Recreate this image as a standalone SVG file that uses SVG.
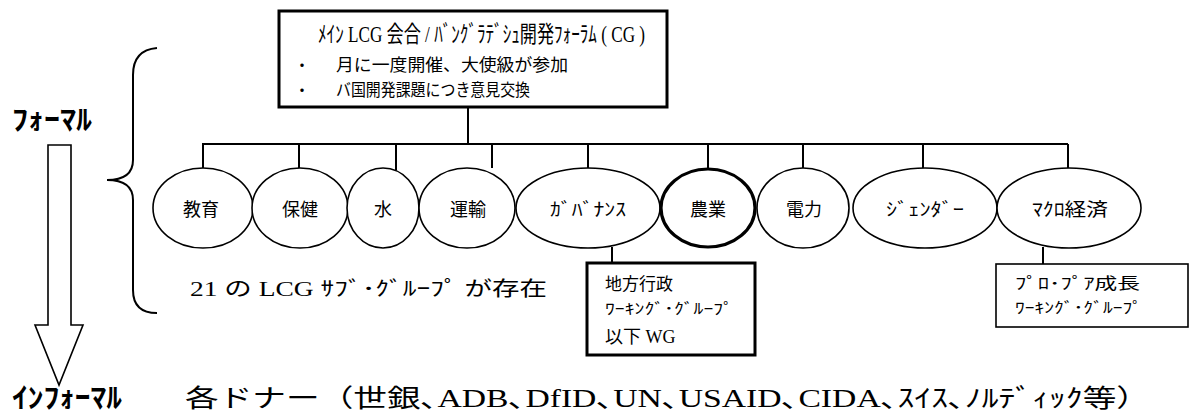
<svg xmlns="http://www.w3.org/2000/svg" width="1195" height="414" viewBox="0 0 1195 414">
<style>
.ln{stroke:#000;stroke-width:2;fill:none}
.el{stroke:#000;stroke-width:1.6;fill:#fff}
.jp{font-family:"Noto Sans CJK JP",sans-serif;fill:#000}
.mx{font-family:"Liberation Serif","Noto Sans CJK JP",serif;fill:#000}
.lab{font-family:"Noto Sans CJK JP",sans-serif;font-size:18px;text-anchor:middle;dominant-baseline:central;fill:#000}
</style>
<rect width="1195" height="414" fill="#fff"/>
<g id="connectors">
<line class="ln" x1="468" y1="108" x2="468" y2="144"/>
<line class="ln" x1="202" y1="144" x2="1068" y2="144"/>
<line class="ln" x1="203" y1="144" x2="203" y2="168"/>
<line class="ln" x1="299" y1="144" x2="299" y2="168"/>
<line class="ln" x1="396" y1="144" x2="396" y2="170"/>
<line class="ln" x1="492" y1="144" x2="492" y2="168"/>
<line class="ln" x1="588" y1="144" x2="588" y2="168"/>
<line class="ln" x1="708" y1="144" x2="708" y2="168"/>
<line class="ln" x1="803" y1="144" x2="803" y2="168"/>
<line class="ln" x1="923" y1="144" x2="923" y2="168"/>
<line class="ln" x1="1068" y1="144" x2="1068" y2="168"/>
<line class="ln" x1="612" y1="247" x2="612" y2="263"/>
<line class="ln" x1="1043" y1="247" x2="1043" y2="264"/>
</g>
<g id="main">
<rect x="279" y="11" width="388" height="96" fill="#fff" stroke="#000" stroke-width="3"/>
<text class="mx" x="318" y="42" font-size="23" textLength="327" lengthAdjust="spacingAndGlyphs">ﾒｲﾝ LCG 会合 / ﾊﾞﾝｸﾞﾗﾃﾞｼｭ開発ﾌｫｰﾗﾑ ( CG )</text>
<text class="jp" x="294" y="71" font-size="16">・</text>
<text class="jp" x="336" y="71" font-size="17" textLength="232" lengthAdjust="spacingAndGlyphs">月に一度開催、大使級が参加</text>
<text class="jp" x="294" y="96" font-size="16">・</text>
<text class="jp" x="336" y="96" font-size="17" textLength="194" lengthAdjust="spacingAndGlyphs">バ国開発課題につき意見交換</text>
</g>
<g id="n-kyoiku"><ellipse class="el" cx="203" cy="208" rx="50" ry="40"/><text class="lab" x="201" y="208">教育</text></g>
<g id="n-hoken"><ellipse class="el" cx="300" cy="208" rx="48" ry="40"/><text class="lab" x="300" y="208">保健</text></g>
<g id="n-mizu"><ellipse class="el" cx="383" cy="208" rx="36" ry="40"/><text class="lab" x="383" y="208">水</text></g>
<g id="n-unyu"><ellipse class="el" cx="467" cy="208" rx="48" ry="40"/><text class="lab" x="468" y="208">運輸</text></g>
<g id="n-gov"><ellipse class="el" cx="588" cy="208" rx="72" ry="40"/><text class="lab" x="588" y="208" textLength="76" lengthAdjust="spacingAndGlyphs">ｶﾞﾊﾞﾅﾝｽ</text></g>
<g id="n-nogyo"><ellipse cx="708" cy="208" rx="47" ry="39" fill="#fff" stroke="#000" stroke-width="3.2"/><text class="lab" x="708" y="208">農業</text></g>
<g id="n-denryoku"><ellipse class="el" cx="803" cy="208" rx="46" ry="40"/><text class="lab" x="804" y="208">電力</text></g>
<g id="n-gender"><ellipse class="el" cx="925" cy="208" rx="72" ry="40"/><text class="lab" x="925" y="208" textLength="78" lengthAdjust="spacingAndGlyphs">ｼﾞｪﾝﾀﾞｰ</text></g>
<g id="n-macro"><ellipse class="el" cx="1069" cy="208" rx="72" ry="40"/><text class="lab" x="1070" y="208" textLength="76" lengthAdjust="spacingAndGlyphs">ﾏｸﾛ経済</text></g>
<g id="sub-local">
<rect x="587" y="263" width="168" height="92" fill="#fff" stroke="#000" stroke-width="3"/>
<text class="jp" x="605" y="290" font-size="17">地方行政</text>
<text class="jp" x="605" y="314" font-size="15" textLength="128" lengthAdjust="spacingAndGlyphs">ﾜｰｷﾝｸﾞ･ｸﾞﾙｰﾌﾟ</text>
<text class="mx" x="605" y="343" font-size="18">以下 WG</text>
</g>
<g id="sub-propoor">
<rect x="996" y="264" width="192" height="63" fill="#fff" stroke="#000" stroke-width="1.6"/>
<text class="jp" x="1015" y="289" font-size="16" textLength="125" lengthAdjust="spacingAndGlyphs">ﾌﾟﾛ･ﾌﾟｱ成長</text>
<text class="jp" x="1015" y="313" font-size="15" textLength="127" lengthAdjust="spacingAndGlyphs">ﾜｰｷﾝｸﾞ･ｸﾞﾙｰﾌﾟ</text>
</g>
<g id="brace">
<path class="ln" stroke-width="1.6" d="M157,48 Q133,50 133,75 L133,160 Q133,180 107,180 Q133,180 133,200 L133,290 Q133,313 157,313"/>
<text class="mx" x="190" y="296" font-size="20" textLength="357" lengthAdjust="spacingAndGlyphs">21 の LCG ｻﾌﾞ･ｸﾞﾙｰﾌﾟ が存在</text>
</g>
<g id="axis">
<text class="jp" x="12" y="130" font-size="28" font-weight="bold" textLength="80" lengthAdjust="spacingAndGlyphs">ﾌｫｰﾏﾙ</text>
<path d="M48,145 L71,145 L71,325 L83,325 L59,385 L35,325 L48,325 Z" fill="#fff" stroke="#000" stroke-width="1.6"/>
<text class="jp" x="12" y="408" font-size="28" font-weight="bold" textLength="110" lengthAdjust="spacingAndGlyphs">ｲﾝﾌｫｰﾏﾙ</text>
</g>
<g id="donors">
<text class="mx" x="185" y="407" font-size="25" textLength="965" lengthAdjust="spacingAndGlyphs">各ドナー（世銀､ADB､DfID､UN､USAID､CIDA､ｽｲｽ､ﾉﾙﾃﾞｨｯｸ等）</text>
</g>
</svg>
